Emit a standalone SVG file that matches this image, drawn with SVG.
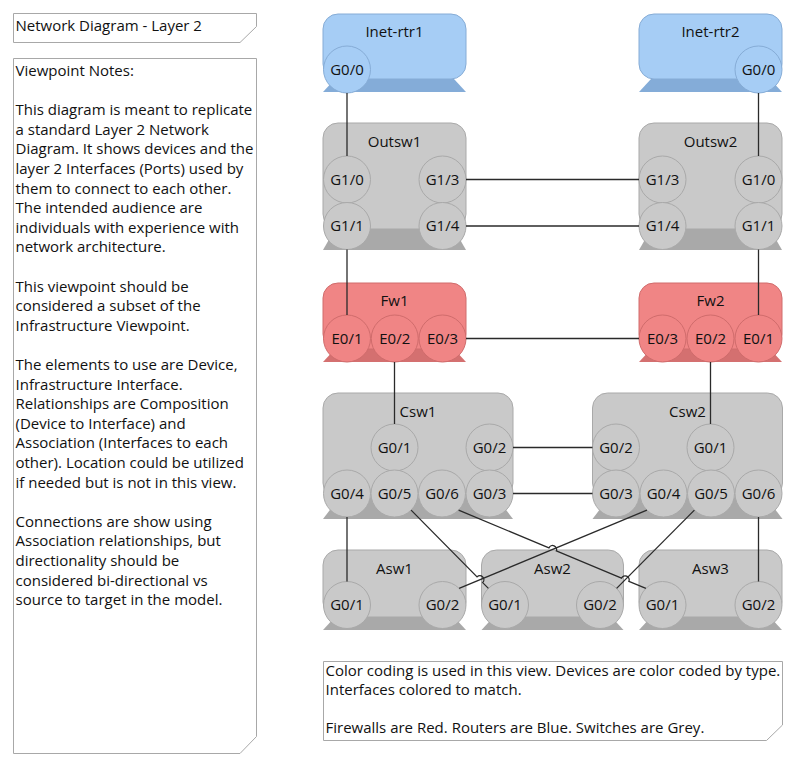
<svg xmlns="http://www.w3.org/2000/svg" width="796" height="768" viewBox="0 0 796 768">
<style>
text{font-family:"Open Sans","Noto Sans","Liberation Sans",sans-serif;font-size:15px;fill:#111}
.c{text-anchor:middle}
.note{fill:#fff;stroke:#a8a8a8;stroke-width:1}
.rb{fill:#a6cdf5;stroke:#86acd6;stroke-width:1}
.rbase{fill:#84acd8}
.gb{fill:#c9c9c9;stroke:#a9a9a9;stroke-width:1}
.gbase{fill:#a9a9a9}
.fb{fill:#f08585;stroke:#d06c6c;stroke-width:1}
.fbase{fill:#d47070}
.cn{fill:none;stroke:#2a2a2a;stroke-width:1.3}
</style>
<rect width="796" height="768" fill="#fff"/>

<g id="title-note">
<path class="note" d="M13.5 13.5 H256.5 V26.5 L240 42.5 H13.5 Z"/>
<text x="15.5" y="31">Network Diagram - Layer 2</text>
</g>

<g id="viewpoint-notes">
<path class="note" d="M13.5 58.5 H256.5 V736.5 L240 753.5 H13.5 Z"/>
<text x="15.5" y="76">Viewpoint Notes:</text>
<text x="15.5" y="115.2">This diagram is meant to replicate</text>
<text x="15.5" y="134.8">a standard Layer 2 Network</text>
<text x="15.5" y="154.4">Diagram. It shows devices and the</text>
<text x="15.5" y="174">layer 2 Interfaces (Ports) used by</text>
<text x="15.5" y="193.6">them to connect to each other.</text>
<text x="15.5" y="213.2">The intended audience are</text>
<text x="15.5" y="232.8">individuals with experience with</text>
<text x="15.5" y="252.4">network architecture.</text>
<text x="15.5" y="291.6">This viewpoint should be</text>
<text x="15.5" y="311.2">considered a subset of the</text>
<text x="15.5" y="330.8">Infrastructure Viewpoint.</text>
<text x="15.5" y="370">The elements to use are Device,</text>
<text x="15.5" y="389.6">Infrastructure Interface.</text>
<text x="15.5" y="409.2">Relationships are Composition</text>
<text x="15.5" y="428.8">(Device to Interface) and</text>
<text x="15.5" y="448.4">Association (Interfaces to each</text>
<text x="15.5" y="468">other). Location could be utilized</text>
<text x="15.5" y="487.6">if needed but is not in this view.</text>
<text x="15.5" y="526.8">Connections are show using</text>
<text x="15.5" y="546.4">Association relationships, but</text>
<text x="15.5" y="566">directionality should be</text>
<text x="15.5" y="585.6">considered bi-directional vs</text>
<text x="15.5" y="605.2">source to target in the model.</text>
</g>

<g id="color-note">
<path class="note" d="M323.5 661.5 H782.5 V725 L766.5 740.5 H323.5 Z"/>
<text x="325.5" y="676">Color coding is used in this view. Devices are color coded by type.</text>
<text x="325.5" y="695">Interfaces colored to match.</text>
<text x="325.5" y="733">Firewalls are Red. Routers are Blue. Switches are Grey.</text>
</g>

<!-- Routers -->
<g id="inet-rtr1">
<path class="rbase" d="M335 79 H454 L466 92 H323 Z"/>
<rect class="rb" x="323" y="14" width="143" height="65" rx="15"/>
<text class="c" x="394.5" y="36.5">Inet-rtr1</text>
<circle class="rb" cx="347" cy="69.5" r="23.5"/>
<text class="c" x="347" y="74.8">G0/0</text>
</g>
<g id="inet-rtr2">
<path class="rbase" d="M651 79 H770 L782 92 H639 Z"/>
<rect class="rb" x="639" y="14" width="143" height="65" rx="15"/>
<text class="c" x="710.5" y="36.5">Inet-rtr2</text>
<circle class="rb" cx="758.5" cy="69.5" r="23.5"/>
<text class="c" x="758.5" y="74.8">G0/0</text>
</g>

<!-- Outside switches -->
<g id="outsw1">
<path class="gbase" d="M335 229 H454 L466 250 H323 Z"/>
<rect class="gb" x="323" y="123" width="143" height="106" rx="15"/>
<text class="c" x="394.5" y="146.5">Outsw1</text>
<circle class="gb" cx="347" cy="179.5" r="23.5"/>
<text class="c" x="347" y="184.8">G1/0</text>
<circle class="gb" cx="442.5" cy="179.5" r="23.5"/>
<text class="c" x="442.5" y="184.8">G1/3</text>
<circle class="gb" cx="347" cy="226" r="23.5"/>
<text class="c" x="347" y="231.3">G1/1</text>
<circle class="gb" cx="442.5" cy="226" r="23.5"/>
<text class="c" x="442.5" y="231.3">G1/4</text>
</g>
<g id="outsw2">
<path class="gbase" d="M651 229 H770 L782 250 H639 Z"/>
<rect class="gb" x="639" y="123" width="143" height="106" rx="15"/>
<text class="c" x="710.5" y="146.5">Outsw2</text>
<circle class="gb" cx="662.5" cy="179.5" r="23.5"/>
<text class="c" x="662.5" y="184.8">G1/3</text>
<circle class="gb" cx="758.5" cy="179.5" r="23.5"/>
<text class="c" x="758.5" y="184.8">G1/0</text>
<circle class="gb" cx="662.5" cy="226" r="23.5"/>
<text class="c" x="662.5" y="231.3">G1/4</text>
<circle class="gb" cx="758.5" cy="226" r="23.5"/>
<text class="c" x="758.5" y="231.3">G1/1</text>
</g>

<!-- Firewalls -->
<g id="fw1">
<path class="fbase" d="M335 349 H454 L466 362 H323 Z"/>
<rect class="fb" x="323" y="283" width="143" height="66" rx="15"/>
<text class="c" x="394.5" y="305.5">Fw1</text>
<circle class="fb" cx="347" cy="338.5" r="23.5"/>
<text class="c" x="347" y="343.8">E0/1</text>
<circle class="fb" cx="394.75" cy="338.5" r="23.5"/>
<text class="c" x="394.75" y="343.8">E0/2</text>
<circle class="fb" cx="442.5" cy="338.5" r="23.5"/>
<text class="c" x="442.5" y="343.8">E0/3</text>
</g>
<g id="fw2">
<path class="fbase" d="M651 349 H770 L782 362 H639 Z"/>
<rect class="fb" x="639" y="283" width="143" height="66" rx="15"/>
<text class="c" x="710.5" y="305.5">Fw2</text>
<circle class="fb" cx="662.5" cy="338.5" r="23.5"/>
<text class="c" x="662.5" y="343.8">E0/3</text>
<circle class="fb" cx="710.5" cy="338.5" r="23.5"/>
<text class="c" x="710.5" y="343.8">E0/2</text>
<circle class="fb" cx="758.5" cy="338.5" r="23.5"/>
<text class="c" x="758.5" y="343.8">E0/1</text>
</g>

<!-- Core switches -->
<g id="csw1">
<path class="gbase" d="M339 498 H497 L513 519 H323 Z"/>
<rect class="gb" x="323" y="393" width="190" height="105" rx="15"/>
<text class="c" x="418" y="416.5">Csw1</text>
<circle class="gb" cx="394.5" cy="447.5" r="23.5"/>
<text class="c" x="394.5" y="452.8">G0/1</text>
<circle class="gb" cx="489.5" cy="447.5" r="23.5"/>
<text class="c" x="489.5" y="452.8">G0/2</text>
<circle class="gb" cx="347" cy="493.5" r="23.5"/>
<text class="c" x="347" y="498.8">G0/4</text>
<circle class="gb" cx="394.5" cy="493.5" r="23.5"/>
<text class="c" x="394.5" y="498.8">G0/5</text>
<circle class="gb" cx="442" cy="493.5" r="23.5"/>
<text class="c" x="442" y="498.8">G0/6</text>
<circle class="gb" cx="489.5" cy="493.5" r="23.5"/>
<text class="c" x="489.5" y="498.8">G0/3</text>
</g>
<g id="csw2">
<path class="gbase" d="M608.5 498 H766.5 L782.5 519 H592.5 Z"/>
<rect class="gb" x="592.5" y="393" width="190" height="105" rx="15"/>
<text class="c" x="687.5" y="416.5">Csw2</text>
<circle class="gb" cx="616" cy="447.5" r="23.5"/>
<text class="c" x="616" y="452.8">G0/2</text>
<circle class="gb" cx="710.5" cy="447.5" r="23.5"/>
<text class="c" x="710.5" y="452.8">G0/1</text>
<circle class="gb" cx="616" cy="493.5" r="23.5"/>
<text class="c" x="616" y="498.8">G0/3</text>
<circle class="gb" cx="663.5" cy="493.5" r="23.5"/>
<text class="c" x="663.5" y="498.8">G0/4</text>
<circle class="gb" cx="711" cy="493.5" r="23.5"/>
<text class="c" x="711" y="498.8">G0/5</text>
<circle class="gb" cx="758.5" cy="493.5" r="23.5"/>
<text class="c" x="758.5" y="498.8">G0/6</text>
</g>

<!-- Access switches -->
<g id="asw1">
<path class="gbase" d="M335 617 H454 L466 630 H323 Z"/>
<rect class="gb" x="323" y="550" width="143" height="67" rx="15"/>
<text class="c" x="394.5" y="574">Asw1</text>
<circle class="gb" cx="347" cy="605" r="23.5"/>
<text class="c" x="347" y="610.3">G0/1</text>
<circle class="gb" cx="442.5" cy="605" r="23.5"/>
<text class="c" x="442.5" y="610.3">G0/2</text>
</g>
<g id="asw2">
<path class="gbase" d="M493.5 617 H611.5 L623.5 630 H481.5 Z"/>
<rect class="gb" x="481.5" y="550" width="142" height="67" rx="15"/>
<text class="c" x="552.5" y="574">Asw2</text>
<circle class="gb" cx="505" cy="605" r="23.5"/>
<text class="c" x="505" y="610.3">G0/1</text>
<circle class="gb" cx="600" cy="605" r="23.5"/>
<text class="c" x="600" y="610.3">G0/2</text>
</g>
<g id="asw3">
<path class="gbase" d="M651 617 H770 L782 630 H639 Z"/>
<rect class="gb" x="639" y="550" width="143" height="67" rx="15"/>
<text class="c" x="710.5" y="574">Asw3</text>
<circle class="gb" cx="662.5" cy="605" r="23.5"/>
<text class="c" x="662.5" y="610.3">G0/1</text>
<circle class="gb" cx="758.5" cy="605" r="23.5"/>
<text class="c" x="758.5" y="610.3">G0/2</text>
</g>

<g id="connectors">
<path class="cn" d="M347 93 V156"/>
<path class="cn" d="M758.5 93 V156"/>
<path class="cn" d="M466 179.5 H639"/>
<path class="cn" d="M466 226 H639"/>
<path class="cn" d="M347 249.5 V315"/>
<path class="cn" d="M758.5 249.5 V315"/>
<path class="cn" d="M466 338.5 H639"/>
<path class="cn" d="M394.5 362 V424"/>
<path class="cn" d="M710.5 362 V424"/>
<path class="cn" d="M513 447.5 H592.5"/>
<path class="cn" d="M513 493.5 H592.5"/>
<path class="cn" d="M347 517 V581.5"/>
<path class="cn" d="M758.5 517 V581.5"/>
<path class="cn" d="M411.1 510.1 L477.05 576.9 A4 4 0 0 1 482.67 582.6 L488.4 588.4"/>
<path class="cn" d="M458.6 510.1 L548.93 547.87 A4 4 0 0 1 556.31 550.95 L621.51 578.21 A4 4 0 0 1 628.89 581.29 L645.9 588.4"/>
<path class="cn" d="M646.9 510.1 L459.1 588.4"/>
<path class="cn" d="M694.4 510.1 L616.6 588.4"/>
</g>
</svg>
